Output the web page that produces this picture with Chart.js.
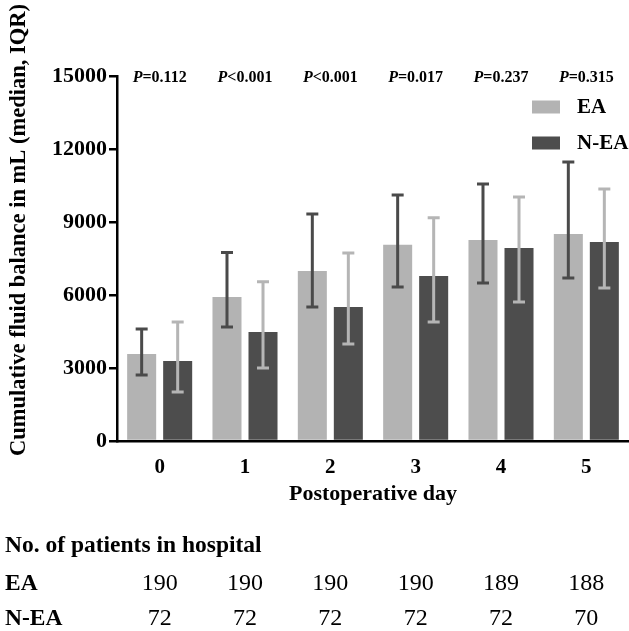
<!DOCTYPE html>
<html>
<head>
<meta charset="utf-8">
<script src="https://cdn.jsdelivr.net/npm/chart.js@4.4.1/dist/chart.umd.min.js"></script>
<style>
  html, body { margin: 0; padding: 0; background: #fff; }
  canvas { display: block; }
</style>
</head>
<body>
<canvas id="chart" width="629" height="631"></canvas>
<script>
// Postoperative days
const days = ['0', '1', '2', '3', '4', '5'];

// Cumulative fluid balance, median and IQR (mL)
const eaMedian = [3580, 5920, 6990, 8060, 8260, 8510];
const eaQ1 = [2710, 4690, 5510, 6330, 6490, 6700];
const eaQ3 = [4600, 7750, 9330, 10110, 10560, 11470];

const neaMedian = [3290, 4480, 5510, 6780, 7930, 8180];
const neaQ1 = [2010, 3000, 3990, 4890, 5710, 6290];
const neaQ3 = [4890, 6540, 7730, 9170, 10030, 10360];

// P-values per day
const pValues = ['=0.112', '<0.001', '<0.001', '=0.017', '=0.237', '=0.315'];

// Patients still in hospital
const eaPatients = [190, 190, 190, 190, 189, 188];
const neaPatients = [72, 72, 72, 72, 72, 70];

const yTicks = [0, 3000, 6000, 9000, 12000, 15000];

const serif = '"Liberation Serif", "Times New Roman", serif';

// error bars, drawn from the bar elements and the y scale
const errorBars = {
    id: 'errorBars',
    afterDatasetsDraw(chart) {
        const ctx = chart.ctx;
        const y = chart.scales.y;
        const sets = [
            { lo: eaQ1, hi: eaQ3, color: '#4a4a4a' },
            { lo: neaQ1, hi: neaQ3, color: '#b5b5b5' }
        ];
        sets.forEach((s, di) => {
            const meta = chart.getDatasetMeta(di);
            meta.data.forEach((bar, i) => {
                const x = bar.x;
                const yLo = y.getPixelForValue(s.lo[i]);
                const yHi = y.getPixelForValue(s.hi[i]);
                ctx.save();
                ctx.strokeStyle = s.color;
                ctx.lineWidth = 3;
                ctx.beginPath();
                ctx.moveTo(x, yLo);
                ctx.lineTo(x, yHi);
                ctx.moveTo(x - 6, yLo);
                ctx.lineTo(x + 6, yLo);
                ctx.moveTo(x - 6, yHi);
                ctx.lineTo(x + 6, yHi);
                ctx.stroke();
                ctx.restore();
            });
        });
    }
};

// titles, p-values, legend and the patients table
const annotations = {
    id: 'annotations',
    afterDraw(chart) {
        const ctx = chart.ctx;
        const xs = chart.scales.x;
        const ys = chart.scales.y;
        ctx.save();
        ctx.fillStyle = '#000';

        // y axis title
        ctx.save();
        ctx.translate(19, 230);
        ctx.rotate(-Math.PI / 2);
        ctx.font = 'bold 22.5px ' + serif;
        ctx.textAlign = 'center';
        ctx.textBaseline = 'middle';
        ctx.fillText('Cumulative fluid balance in mL (median, IQR)', 0, 0);
        ctx.restore();

        // x axis title
        ctx.font = 'bold 22px ' + serif;
        ctx.textAlign = 'center';
        ctx.textBaseline = 'middle';
        ctx.fillText('Postoperative day', (chart.chartArea.left + chart.chartArea.right) / 2, 494);

        // p-values
        const pY = ys.getPixelForValue(15000) + 2;
        days.forEach((d, i) => {
            const cx = xs.getPixelForValue(i);
            ctx.font = 'bold italic 16px ' + serif;
            const w1 = ctx.measureText('P').width;
            ctx.font = 'bold 16px ' + serif;
            const w2 = ctx.measureText(pValues[i]).width;
            const x0 = cx - (w1 + w2) / 2;
            ctx.textAlign = 'left';
            ctx.font = 'bold italic 16px ' + serif;
            ctx.fillText('P', x0, pY);
            ctx.font = 'bold 16px ' + serif;
            ctx.fillText(pValues[i], x0 + w1, pY);
        });

        // legend
        const legend = [
            { label: 'EA', color: '#b3b3b3', y: 107 },
            { label: 'N-EA', color: '#4d4d4d', y: 143 }
        ];
        legend.forEach(l => {
            ctx.fillStyle = l.color;
            ctx.fillRect(532, l.y - 6.5, 28, 13);
            ctx.fillStyle = '#000';
            ctx.font = 'bold 21px ' + serif;
            ctx.textAlign = 'left';
            ctx.fillText(l.label, 577, l.y + 1);
        });

        // patients table
        ctx.textAlign = 'left';
        ctx.font = 'bold 23.5px ' + serif;
        ctx.fillText('No. of patients in hospital', 5, 546);
        ctx.fillText('EA', 5, 584);
        ctx.fillText('N-EA', 5, 619);
        ctx.textAlign = 'center';
        ctx.font = '24px ' + serif;
        days.forEach((d, i) => {
            const cx = xs.getPixelForValue(i);
            ctx.fillText(String(eaPatients[i]), cx, 584);
            ctx.fillText(String(neaPatients[i]), cx, 619);
        });
        ctx.restore();
    }
};

new Chart(document.getElementById('chart'), {
    type: 'bar',
    data: {
        labels: days,
        datasets: [
            {
                label: 'EA',
                data: eaMedian,
                backgroundColor: '#b3b3b3',
                categoryPercentage: 0.844,
                barPercentage: 0.806
            },
            {
                label: 'N-EA',
                data: neaMedian,
                backgroundColor: '#4d4d4d',
                categoryPercentage: 0.844,
                barPercentage: 0.806
            }
        ]
    },
    options: {
        responsive: false,
        animation: false,
        layout: { padding: { top: 76, right: 0, left: 0, bottom: 0 } },
        plugins: {
            legend: { display: false },
            tooltip: { enabled: false }
        },
        scales: {
            x: {
                afterFit: s => { s.height = 190; },
                grid: { display: false, drawTicks: false },
                border: { display: true, color: '#000', width: 2.5 },
                ticks: {
                    color: '#000',
                    padding: 14,
                    font: { family: serif, size: 21, weight: 'bold' }
                }
            },
            y: {
                min: 0,
                max: 15000,
                afterFit: s => { s.width = 117; },
                afterBuildTicks: s => { s.ticks = yTicks.map(v => ({ value: v })); },
                grid: { drawOnChartArea: false, color: '#000', lineWidth: 2.5, tickLength: 8 },
                border: { display: true, color: '#000', width: 2.5 },
                ticks: {
                    color: '#000',
                    padding: 2,
                    font: { family: serif, size: 22, weight: 'bold' },
                    callback: v => String(v)
                }
            }
        }
    },
    plugins: [errorBars, annotations]
});
</script>
</body>
</html>
